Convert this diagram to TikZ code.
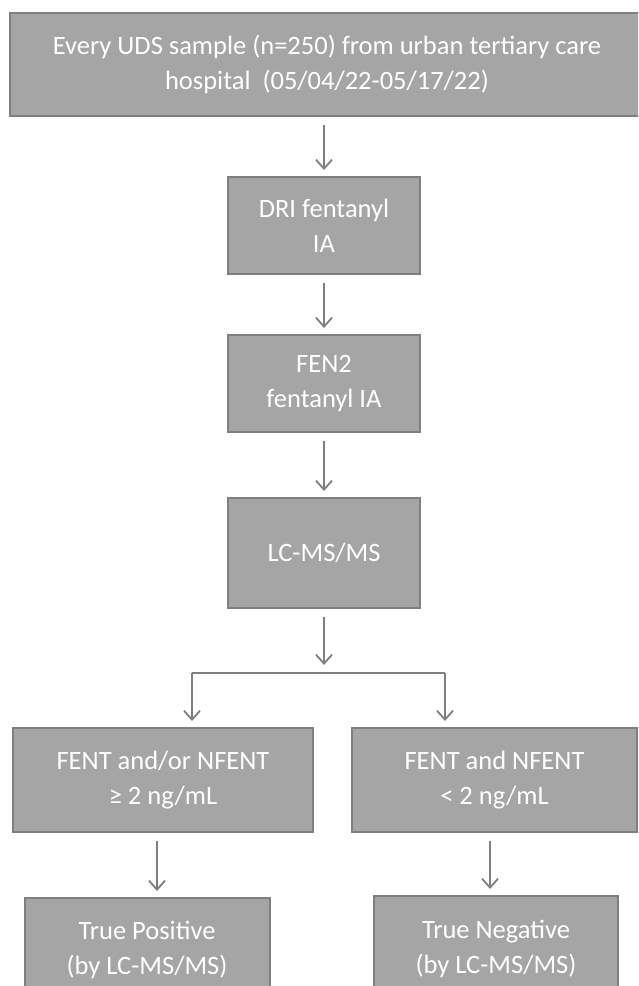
\documentclass[tikz,border=0pt]{standalone}
\usepackage{fontspec}
\setmainfont{Carlito}
\usetikzlibrary{arrows.meta}
\usepackage{xcolor}
\definecolor{boxfill}{HTML}{A5A5A5}
\definecolor{boxline}{HTML}{7F7F7F}

\begin{document}
\begin{tikzpicture}[x=1pt, y=-1pt]
    % block style
    \tikzstyle{block}=[
      draw=boxline,
      line width=2pt,
      fill=boxfill,
      text=white,
      rectangle,
      inner sep=0pt,
      align=center,
      font=\fontsize{26.5}{35}\selectfont
    ]
    % connector styles
    \tikzstyle{line}=[draw=boxline, line width=1.8pt]
    \tikzstyle{link}=[line, -{Straight Barb[length=9pt,width=16pt]},
      shorten <=8pt, shorten >=6pt]

    \clip (0,0) rectangle (638,986);

    % Main column
    \node[block, minimum width=634pt, minimum height=103pt] (A) at (327,64.5)
      {Every UDS sample (n=250) from urban tertiary care\\hospital\ \ (05/04/22-05/17/22)};
    \node[block, minimum width=192pt, minimum height=97pt] (B) at (324,225.5)
      {DRI fentanyl\\IA};
    \node[block, minimum width=192pt, minimum height=97pt] (C) at (324,383.5)
      {FEN2\\fentanyl IA};
    \node[block, minimum width=192pt, minimum height=110pt] (D) at (324,553)
      {LC-MS/MS};

    % Split point
    \coordinate (S) at (324,673);
    \coordinate (L) at (192,673);
    \coordinate (R) at (445,673);

    % Left branch
    \node[block, minimum width=300pt, minimum height=104pt] (E) at (163,780)
      {FENT and/or NFENT\\≥ 2 ng/mL};
    \node[block, minimum width=245pt, minimum height=104pt] (G) at (147,950)
      {True Positive\\(by LC-MS/MS)};

    % Right branch
    \node[block, minimum width=285pt, minimum height=104pt] (F) at (494.5,780)
      {FENT and NFENT\\< 2 ng/mL};
    \node[block, minimum width=244pt, minimum height=106pt] (H) at (496,949)
      {True Negative\\(by LC-MS/MS)};

    % Arrows down main column
    \draw[link] (A.south -| B.south) -- (B.north);
    \draw[link] (B.south) -- (C.north);
    \draw[link] (C.south) -- (D.north);
    \draw[link, shorten >=8pt] (D.south) -- (S);

    % Split
    \draw[line] (L) -- (R);
    \draw[link, shorten <=0pt] (L) -- (L |- E.north);
    \draw[link, shorten <=0pt] (R) -- (R |- F.north);

    % Arrows down to results
    \draw[link] (E.south -| 157,0) -- (157,0 |- G.north);
    \draw[link] (F.south -| 490,0) -- (490,0 |- H.north);
\end{tikzpicture}
\end{document}
